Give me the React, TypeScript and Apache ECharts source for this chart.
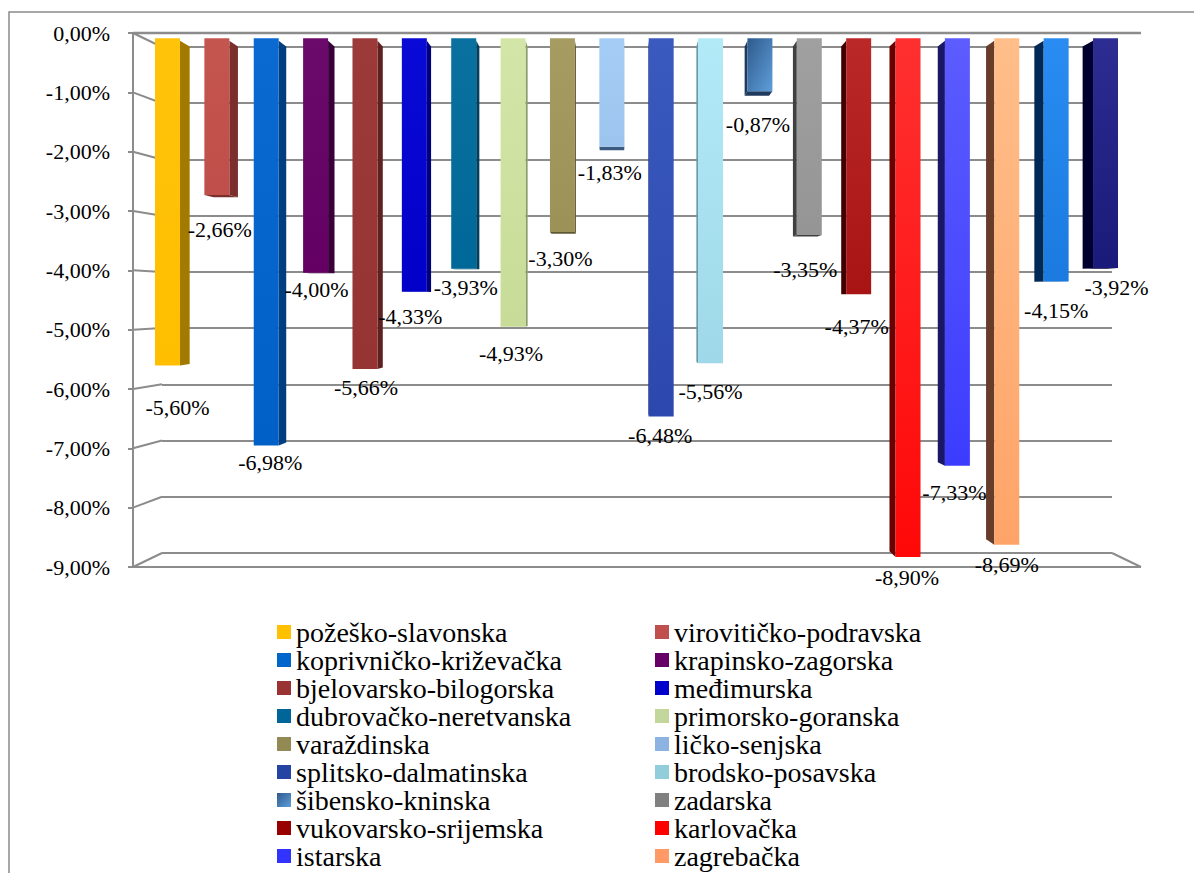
import React, { useEffect, useRef } from 'react';
import * as echarts from 'echarts';

const categories = [
  'požeško-slavonska', 'virovitičko-podravska', 'koprivničko-križevačka', 'krapinsko-zagorska',
  'bjelovarsko-bilogorska', 'međimurska', 'dubrovačko-neretvanska', 'primorsko-goranska',
  'varaždinska', 'ličko-senjska', 'splitsko-dalmatinska', 'brodsko-posavska',
  'šibensko-kninska', 'zadarska', 'vukovarsko-srijemska', 'karlovačka',
  'istarska', 'zagrebačka', 'osječko-baranjska', 'sisačko-moslavačka',
];
const values = [
  -5.60, -2.66, -6.98, -4.00, -5.66, -4.33, -3.93, -4.93, -3.30, -1.83,
  -6.48, -5.56, -0.87, -3.35, -4.37, -8.90, -7.33, -8.69, -4.15, -3.92,
];
const legendShown = categories.slice(0, 18);
const Y_MIN = -9;
const Y_MAX = 0;
const Y_STEP = 1;

// styles
const legendColors = [
  '#FFC000', '#C0504D', '#0066CC', '#660066', '#993333', '#0000CC', '#006699', '#C3D69B',
  '#938953', '#8DB3E2', '#2443A3', '#92CDDC', 'GRAD', '#808080', '#990000', '#FF0000',
  '#3333FF', '#FF9966', '#1F85E8', '#1F1F80',
];
const faceTop = [
  '#FFC30A', '#C5554F', '#0A6AD2', '#6A0A6A', '#9C3A3A', '#0A0AD6', '#0A70A0', '#D3E6A8',
  '#A69C62', '#A6CDF5', '#3A5AC0', '#B2EAF8', 'GRAD', '#A0A0A0', '#BA2828', '#FF3030',
  '#5C5CFF', '#FFBE8A', '#2A8CF2', '#2C2C92',
];
const faceBottom = [
  '#FFBF00', '#C04E4A', '#0060C8', '#640064', '#963434', '#0000C8', '#006898', '#C8DC98',
  '#9C9258', '#9CC4EE', '#2C48AE', '#9FD8E8', 'GRAD', '#959595', '#A81414', '#FF0808',
  '#3C3CFF', '#FFA468', '#1A7ADF', '#1A1A7A',
];
const sideColors = [
  '#A37A00', '#7A2F2D', '#003E80', '#3A003A', '#5E2020', '#00007A', '#00405E', '#8C9E68',
  '#5E5832', '#3A5A80', '#1A2C70', '#6A9AA8', '#1F3A5F', '#404040', '#400000', '#6A0000',
  '#181866', '#673D2A', '#002A55', '#000030',
];
// label nudges (px) relative to the bar end, mimicking the 3D label placement
const labelDx = [10, 3, 4, 1, 1, -4, 2, -2, -2, -2, -1, 0, -2, -4, -2, -1, -3, 0, 0, 11];
const labelDy = [42, 35, 17, 17, 19, 25, 19, 27, 26, 26, 19, 28, 33, 34, 32, 21, 27, 20, 29, 19];

const FONT = "'Liberation Serif', 'Times New Roman', serif";
const fmt = (v: number) => v.toFixed(2).replace('.', ',') + '%';
const GRID_COLOR = '#8c8c8c';

const sibGrad = () =>
  new echarts.graphic.LinearGradient(0, 0, 1, 1, [
    { offset: 0, color: '#2F5A8C' },
    { offset: 1, color: '#5E9EDA' },
  ]);

export default function App() {
  const ref = useRef<HTMLDivElement>(null);

  useEffect(() => {
    const chart = echarts.init(ref.current!, null, { renderer: 'svg' });
    const vpF = 0.022;

    const geom = (api: any) => {
      const idx = api.value(0);
      const v = api.value(1);
      const band = api.size([1, 0])[0];
      const [cx, y0] = api.coord([idx, 0]);
      const y1 = api.coord([idx, v])[1];
      const half = band * 0.253;
      const vx = api.coord([9, 0])[0] + 0.17 * band;
      const vy = api.coord([0, (Y_MIN + Y_MAX) / 2])[1];
      return { idx, v, cx, y0, y1, half, vx, vy };
    };

    const renderBar = (params: any, api: any) => {
      const { idx, cx, y0, y1, half, vx, vy } = geom(api);
      const x0 = cx - half;
      const x1 = cx + half;
      const bk = (x: number, y: number) => [x + (vx - x) * vpF, y + (vy - y) * vpF];
      const children: any[] = [];
      const side = sideColors[idx];
      const sx = cx < vx ? x1 : x0;
      children.push({
        type: 'polygon',
        shape: { points: [[sx, y0], bk(sx, y0), bk(sx, y1), [sx, y1]] },
        style: { fill: side },
      });
      if (y1 < vy) {
        children.push({
          type: 'polygon',
          shape: { points: [[x0, y1], [x1, y1], bk(x1, y1), bk(x0, y1)] },
          style: { fill: side },
        });
      }
      const fill =
        faceTop[idx] === 'GRAD'
          ? sibGrad()
          : new echarts.graphic.LinearGradient(0, 0, 0, 1, [
              { offset: 0, color: faceTop[idx] },
              { offset: 1, color: faceBottom[idx] },
            ]);
      children.push({
        type: 'rect',
        shape: { x: x0, y: y0 - 2.5, width: x1 - x0, height: y1 - y0 + 2.5 },
        style: { fill },
      });
      return { type: 'group', children };
    };

    const renderLabel = (params: any, api: any) => {
      const { idx, v, cx, y1 } = geom(api);
      return {
        type: 'text',
        x: cx + labelDx[idx],
        y: y1 + labelDy[idx],
        style: {
          text: fmt(v),
          fill: '#000',
          fontSize: 22,
          fontFamily: FONT,
          align: 'center',
          verticalAlign: 'middle',
        },
      };
    };

    const barSeries = categories.map((name, i) => ({
      type: 'custom',
      name,
      xAxisIndex: 2,
      yAxisIndex: 2,
      renderItem: renderBar,
      itemStyle: { color: legendColors[i] === 'GRAD' ? sibGrad() : legendColors[i] },
      data: [[i, values[i]]],
      z: 3,
      silent: true,
    }));

    const legendBase = {
      orient: 'vertical',
      top: 618,
      height: 300,
      itemWidth: 14,
      itemHeight: 14,
      itemGap: 0,
      padding: 0,
      icon: 'rect',
      selectedMode: false,
      textStyle: { fontSize: 28, lineHeight: 27, fontFamily: FONT, color: '#000' },
    };

    chart.setOption({
      animation: false,
      backgroundColor: '#ffffff',
      textStyle: { fontFamily: FONT },
      grid: [
        { left: 162, right: 82, top: 47, bottom: 320 },
        { left: 133, right: 53, top: 33, bottom: 306 },
        { left: 142.8, right: 63.8, top: 40.7, bottom: 310.3 },
      ],
      xAxis: [
        { type: 'value', gridIndex: 0, min: 0, max: 1, show: false },
        { type: 'value', gridIndex: 1, min: 0, max: 1, show: false },
        { type: 'category', gridIndex: 2, data: categories, show: false },
      ],
      yAxis: [
        {
          type: 'value', gridIndex: 0, min: Y_MIN, max: Y_MAX, interval: Y_STEP,
          axisLine: { show: false }, axisTick: { show: false }, axisLabel: { show: false },
          splitLine: { show: true, lineStyle: { color: GRID_COLOR, width: 2 } },
        },
        {
          type: 'value', gridIndex: 1, min: Y_MIN, max: Y_MAX, interval: Y_STEP,
          axisLine: { show: true, lineStyle: { color: GRID_COLOR, width: 2 } },
          axisTick: { show: true, inside: false, length: 5, lineStyle: { color: GRID_COLOR, width: 2 } },
          axisLabel: { show: true, margin: 23, formatter: (v: number) => fmt(v), fontSize: 22, fontFamily: FONT, color: '#000' },
          splitLine: { show: false },
        },
        { type: 'value', gridIndex: 2, min: Y_MIN, max: Y_MAX, show: false },
      ],
      legend: [
        { ...legendBase, left: 277, data: legendShown.filter((_, i) => i % 2 === 0) },
        { ...legendBase, left: 655, data: legendShown.filter((_, i) => i % 2 === 1) },
      ],
      series: [
        ...barSeries,
        {
          type: 'custom',
          name: 'labels',
          xAxisIndex: 2,
          yAxisIndex: 2,
          renderItem: renderLabel,
          data: values.map((v, i) => [i, v]),
          z: 10,
          silent: true,
        },
      ],
    });

    // perspective frame lines, positioned through the axes' own scales
    const pb = (x: number, v: number) => chart.convertToPixel({ gridIndex: 0 }, [x, v]) as number[];
    const pf = (x: number, v: number) => chart.convertToPixel({ gridIndex: 1 }, [x, v]) as number[];
    const line = (a: number[], b: number[], w = 2) => ({
      type: 'line',
      silent: true,
      z: 0,
      shape: { x1: a[0], y1: a[1], x2: b[0], y2: b[1] },
      style: { stroke: GRID_COLOR, lineWidth: w },
    });
    const els: any[] = [];
    for (let v = Y_MAX; v >= Y_MIN; v -= Y_STEP) {
      els.push(line(pf(0, v), pb(0, v)));
    }
    els.push(line(pf(0, Y_MAX), pf(1, Y_MAX), 2.5));
    els.push(line(pf(0, Y_MIN), pf(1, Y_MIN)));
    els.push(line(pf(1, Y_MIN), pb(1, Y_MIN)));
    els.push({
      type: 'rect',
      silent: true,
      z: 0,
      shape: { x: 9, y: 12, width: 1400, height: 1000 },
      style: { fill: 'rgba(0,0,0,0)', stroke: '#8a8a8a', lineWidth: 1.5 },
    });
    chart.setOption({ graphic: { elements: els } });

    return () => chart.dispose();
  }, []);

  return (
    <div
      ref={ref}
      style={{ position: 'fixed', left: 0, top: 0, width: 1194, height: 873, background: '#fff' }}
    />
  );
}
